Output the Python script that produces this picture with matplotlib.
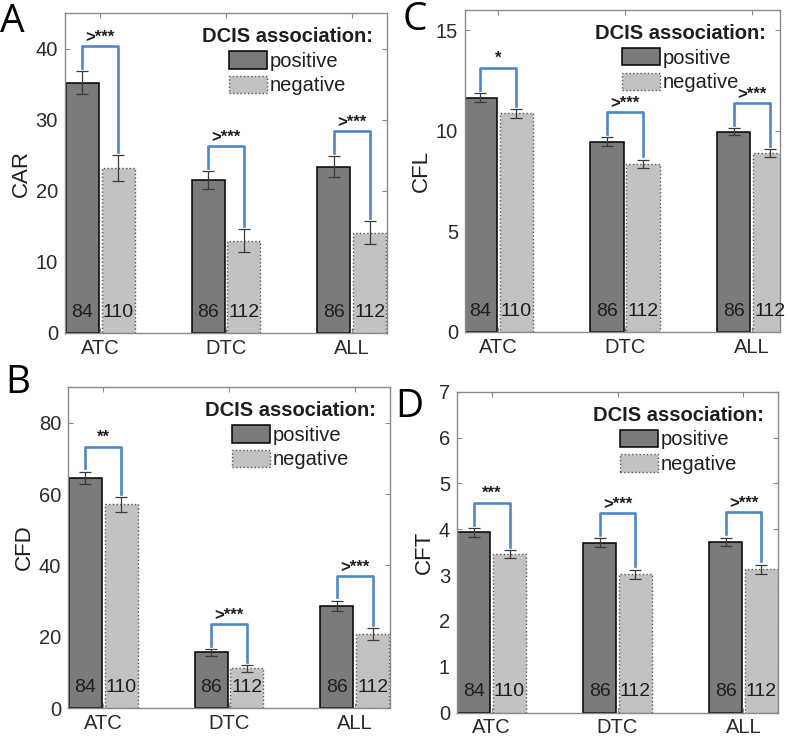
import numpy as np
import matplotlib
matplotlib.use('Agg')
import matplotlib.pyplot as plt
from matplotlib.patches import Patch

plt.rcParams['font.family'] = ['Liberation Sans', 'DejaVu Sans']

# Данные
groups = ['ATC', 'DTC', 'ALL']
n_pos = [84, 86, 86]
n_neg = [110, 112, 112]

car_pos = [35.2, 21.5, 23.4]
car_pos_err = [1.6, 1.3, 1.5]
car_neg = [23.2, 13.0, 14.1]
car_neg_err = [1.8, 1.6, 1.6]
car_sig = ['>***', '>***', '>***']

cfd_pos = [64.5, 15.6, 28.7]
cfd_pos_err = [1.8, 0.9, 1.4]
cfd_neg = [57.1, 11.1, 20.7]
cfd_neg_err = [2.0, 1.0, 1.6]
cfd_sig = ['**', '>***', '>***']

cfl_pos = [11.65, 9.45, 9.95]
cfl_pos_err = [0.22, 0.22, 0.18]
cfl_neg = [10.87, 8.36, 8.89]
cfl_neg_err = [0.22, 0.20, 0.20]
cfl_sig = ['*', '>***', '>***']

cft_pos = [3.93, 3.71, 3.73]
cft_pos_err = [0.10, 0.10, 0.09]
cft_neg = [3.46, 3.02, 3.13]
cft_neg_err = [0.09, 0.10, 0.10]
cft_sig = ['***', '>***', '>***']

# Стиль
pos_color = '#7b7b7b'
neg_color = '#c2c2c2'
bracket_color = '#4f86c6'
text_color = '#1e1e1e'
spine_color = '#8a8a8a'
bar_w = 0.262
off = 0.142


def panel(ax, pos, pos_err, neg, neg_err, sig, ylabel, ymax, yticks, xlim):
    x = np.arange(1, len(groups) + 1)
    ax.bar(x - off, pos, bar_w, color=pos_color, edgecolor='black', linewidth=1.1, zorder=2)
    ax.bar(x + off, neg, bar_w, color=neg_color, edgecolor='#555555', linewidth=1.0,
           linestyle=':', zorder=2)
    ax.errorbar(x - off, pos, yerr=pos_err, fmt='none', ecolor='#3a3a3a', elinewidth=0.9,
                capsize=4, capthick=0.9, zorder=3)
    ax.errorbar(x + off, neg, yerr=neg_err, fmt='none', ecolor='#3a3a3a', elinewidth=0.9,
                capsize=4, capthick=0.9, zorder=3)

    # скобки значимости
    pad = 0.01 * ymax
    h = 0.068 * ymax
    for i in range(len(groups)):
        left = pos[i] + pos_err[i] + pad
        right = neg[i] + neg_err[i] + pad
        top = max(left, right) + h
        ax.plot([x[i] - off, x[i] - off, x[i] + off, x[i] + off], [left, top, top, right],
                color=bracket_color, linewidth=1.9, solid_joinstyle='round', zorder=4)
        ax.annotate(sig[i], (x[i], top), xytext=(0, 1.5), textcoords='offset points',
                    ha='center', va='bottom', fontsize=12, fontweight='bold', color=text_color)

    # подписи количества
    for i in range(len(groups)):
        ax.text(x[i] - off, 0.065 * ymax, str(n_pos[i]), ha='center', va='center',
                fontsize=14, color=text_color, zorder=5)
        ax.text(x[i] + off, 0.065 * ymax, str(n_neg[i]), ha='center', va='center',
                fontsize=14, color=text_color, zorder=5)

    ax.set_xlim(*xlim)
    ax.set_ylim(0, ymax)
    ax.set_xticks(x)
    ax.set_xticklabels(groups)
    ax.set_yticks(yticks)
    ax.set_ylabel(ylabel, fontsize=16, color=text_color, labelpad=3)
    ax.tick_params(direction='in', top=True, right=True, length=3.5, width=0.8,
                   labelsize=14.5, colors=spine_color, labelcolor='#2a2a2a')
    ax.tick_params(axis='x', pad=4)
    ax.tick_params(axis='y', pad=5)
    for s in ax.spines.values():
        s.set_color(spine_color)
        s.set_linewidth(1)

    handles = [Patch(facecolor=pos_color, edgecolor='black', linewidth=1.1),
               Patch(facecolor=neg_color, edgecolor='#555555', linewidth=1.0, linestyle=':')]
    leg = ax.legend(handles, ['positive', 'negative'], title='DCIS association:',
                    title_fontproperties={'weight': 'bold', 'size': 14.5}, fontsize=14.5,
                    loc='upper right', frameon=False, handlelength=1.9, handleheight=0.95,
                    handletextpad=0.1, labelspacing=0.25, borderaxespad=0.35, borderpad=0.35)
    for t in leg.get_texts():
        t.set_color(text_color)
    leg.get_title().set_color(text_color)


fig = plt.figure(figsize=(7.87, 7.4), dpi=100)

axA = fig.add_axes([0.0826, 0.55, 0.4091, 0.4324])
axC = fig.add_axes([0.5909, 0.5514, 0.4003, 0.4351])
axB = fig.add_axes([0.0864, 0.0432, 0.4091, 0.4338])
axD = fig.add_axes([0.5807, 0.0369, 0.4079, 0.4338])

panel(axA, car_pos, car_pos_err, car_neg, car_neg_err, car_sig, 'CAR', 45,
      [0, 10, 20, 30, 40], (0.72, 3.28))
panel(axC, cfl_pos, cfl_pos_err, cfl_neg, cfl_neg_err, cfl_sig, 'CFL', 16,
      [0, 5, 10, 15], (0.736, 3.225))
panel(axB, cfd_pos, cfd_pos_err, cfd_neg, cfd_neg_err, cfd_sig, 'CFD', 90,
      [0, 20, 40, 60, 80], (0.72, 3.28))
panel(axD, cft_pos, cft_pos_err, cft_neg, cft_neg_err, cft_sig, 'CFT', 7,
      list(range(8)), (0.725, 3.275))

# Буквы панелей
letter_kw = dict(fontsize=28, family=['Open Sans', 'DejaVu Sans'], color='black', va='baseline')
fig.text(0.0, 0.957, 'A', **letter_kw)
fig.text(0.0064, 0.469, 'B', **letter_kw)
fig.text(0.511, 0.960, 'C', **letter_kw)
fig.text(0.502, 0.4365, 'D', **letter_kw)

fig.savefig('out.png', dpi=100, facecolor='white')
